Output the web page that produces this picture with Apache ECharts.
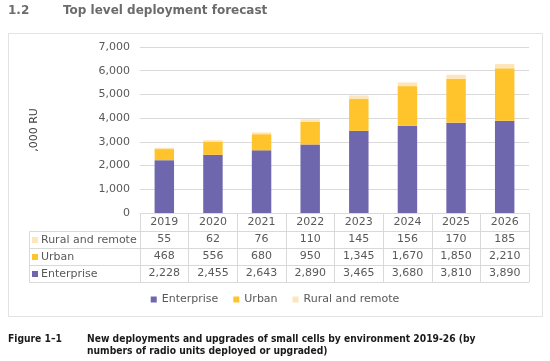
<!DOCTYPE html>
<html><head><meta charset="utf-8">
<script src="https://cdn.jsdelivr.net/npm/echarts@6/dist/echarts.min.js"></script>
<style>html,body{margin:0;padding:0;background:#fff}#c{width:550px;height:361px}</style>
</head><body><div id="c"></div>
<script>
// ---- data ----
const years = ['2019','2020','2021','2022','2023','2024','2025','2026'];
const enterprise = [2228,2455,2643,2890,3465,3680,3810,3890];
const urban = [468,556,680,950,1345,1670,1850,2210];
const rural = [55,62,76,110,145,156,170,185];
const seriesNames = ['Enterprise','Urban','Rural and remote'];
const yMin = 0, yMax = 7000, yStep = 1000;
const yName = ',000 RU';
const titleNum = '1.2';
const titleText = 'Top level deployment forecast';
const figLabel = 'Figure 1\u20131';
const figText1 = 'New deployments and upgrades of small cells by environment 2019-26 (by';
const figText2 = 'numbers of radio units deployed or upgraded)';

// ---- styling ----
const FONT = '"DejaVu Sans", Verdana, sans-serif';
const C_ENT = '#6e67ad', C_URB = '#ffc32b', C_RUR = '#fde6bb';
const TXT = '#595959', LINE = '#d9d9d9';
const fmt = v => v.toLocaleString('en-US');

// caption font: prefer a condensed face, fitted to the reference line width
const cv = document.createElement('canvas').getContext('2d');
function w(font, t) { cv.font = font; return cv.measureText(t).width; }
const condOK = w('bold 10px "DejaVu Sans Condensed", monospace', figText1) !== w('bold 10px monospace', figText1);
const CAP_FAMILY = condOK ? '"DejaVu Sans Condensed", "DejaVu Sans", sans-serif' : FONT;
const capW = w('bold 10px ' + CAP_FAMILY, figText1);
const capSize = Math.min(10.5, 10 * 389 / capW);
const CAP_FONT = 'bold ' + capSize.toFixed(2) + 'px ' + CAP_FAMILY;

const gridL = 140, gridR = 21, gridT = 47, gridB = 148;
const axisY = 361 - gridB;       // y of x-axis line
const yearRowH = 18, rowH = 17;
const tableLeft = 29;

const rows = [
  {name: 'Rural and remote', data: rural, color: C_RUR},
  {name: 'Urban', data: urban, color: C_URB},
  {name: 'Enterprise', data: enterprise, color: C_ENT}
];

const chart = echarts.init(document.getElementById('c'), null, {renderer: 'canvas'});

const xAxes = [{
  type: 'category', data: years, gridIndex: 0, position: 'bottom',
  axisLine: {show: true, lineStyle: {color: LINE}},
  axisTick: {show: true, interval: 0, length: yearRowH, lineStyle: {color: LINE}},
  axisLabel: {margin: 4, color: TXT, fontSize: 11, fontFamily: FONT, interval: 0}
}];
rows.forEach((r, i) => {
  xAxes.push({
    type: 'category', data: r.data.map(fmt), gridIndex: 0, position: 'bottom',
    offset: yearRowH + i * rowH,
    axisLine: {show: true, lineStyle: {color: LINE}},
    axisTick: {show: true, interval: 0, length: rowH, lineStyle: {color: LINE}},
    axisLabel: {margin: 3, color: TXT, fontSize: 11, fontFamily: FONT, interval: 0},
    splitLine: {show: false}
  });
});
xAxes.push({
  type: 'category', data: years, gridIndex: 0, position: 'bottom',
  offset: yearRowH + rows.length * rowH,
  axisLine: {show: true, lineStyle: {color: LINE}},
  axisTick: {show: false}, axisLabel: {show: false}, splitLine: {show: false}
});

const graphics = [];
// outer frame
graphics.push({type: 'rect', shape: {x: 8.5, y: 33.5, width: 534, height: 283},
  style: {fill: 'none', stroke: '#e3e3e3', lineWidth: 1}, silent: true});
// title
graphics.push({type: 'text', x: 8, y: 5, style: {text: titleNum, font: 'bold 12px ' + FONT, fill: '#6b6b6b'}});
graphics.push({type: 'text', x: 63, y: 5, style: {text: titleText, font: 'bold 12px ' + FONT, fill: '#6b6b6b'}});
// caption
graphics.push({type: 'text', x: 8, y: 334, style: {text: figLabel, font: CAP_FONT, fill: '#1a1a1a'}});
graphics.push({type: 'text', x: 87, y: 334, style: {text: figText1, font: CAP_FONT, fill: '#1a1a1a'}});
graphics.push({type: 'text', x: 87, y: 346, style: {text: figText2, font: CAP_FONT, fill: '#1a1a1a'}});
// row header cells
rows.forEach((r, i) => {
  const top = axisY + yearRowH + i * rowH;
  graphics.push({type: 'rect', shape: {x: tableLeft + 0.5, y: top + 0.5, width: gridL - tableLeft, height: rowH},
    style: {fill: 'none', stroke: LINE, lineWidth: 1}, silent: true});
  graphics.push({type: 'rect', shape: {x: tableLeft + 3, y: top + 6, width: 6, height: 6},
    style: {fill: r.color}, silent: true});
  graphics.push({type: 'text', x: tableLeft + 12, y: top + rowH / 2 + 0.5,
    style: {text: r.name, font: '11px ' + FONT, fill: TXT, verticalAlign: 'middle'}});
});

const option = {
  animation: false,
  backgroundColor: '#fff',
  textStyle: {fontFamily: FONT},
  grid: {left: gridL, right: gridR, top: gridT, bottom: gridB, containLabel: false},
  legend: {
    data: seriesNames, left: 'center', top: 289, icon: 'rect',
    itemWidth: 6, itemHeight: 6, itemGap: 15,
    textStyle: {color: TXT, fontSize: 11, fontFamily: FONT}
  },
  xAxis: xAxes,
  yAxis: {
    type: 'value', min: yMin, max: yMax, interval: yStep,
    name: yName, nameLocation: 'middle', nameGap: 100, nameRotate: 90,
    nameTextStyle: {color: '#404040', fontSize: 11, fontFamily: FONT},
    axisLine: {show: false}, axisTick: {show: false},
    axisLabel: {margin: 10, color: TXT, fontSize: 11, fontFamily: FONT, formatter: v => fmt(v)},
    splitLine: {lineStyle: {color: LINE}}
  },
  series: [
    {name: seriesNames[0], type: 'bar', stack: 'all', data: enterprise, barWidth: '40%',
     itemStyle: {color: C_ENT}},
    {name: seriesNames[1], type: 'bar', stack: 'all', data: urban, barWidth: '40%',
     itemStyle: {color: C_URB}},
    {name: seriesNames[2], type: 'bar', stack: 'all', data: rural, barWidth: '40%',
     itemStyle: {color: C_RUR}}
  ],
  graphic: graphics
};
chart.setOption(option);
</script>
</body></html>
